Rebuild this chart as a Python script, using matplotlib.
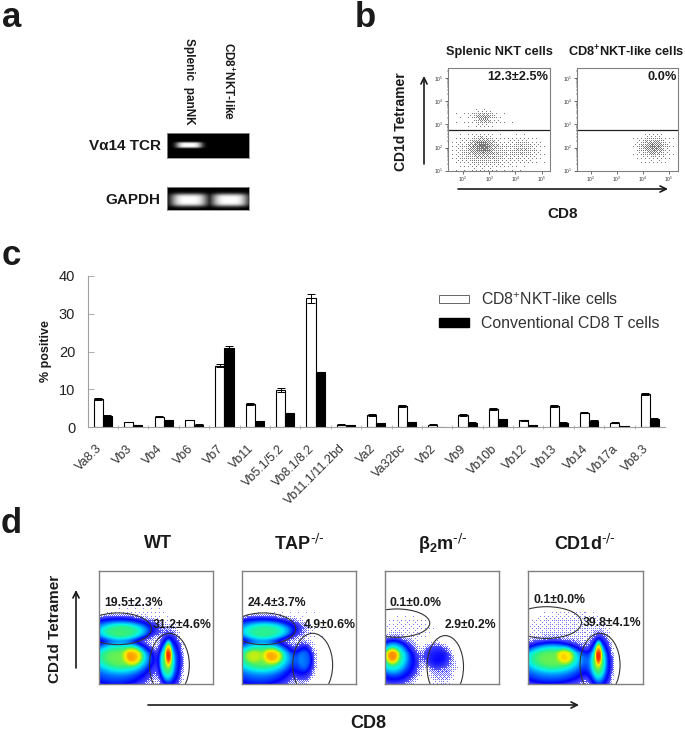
import matplotlib
matplotlib.use('Agg')
import matplotlib.pyplot as plt
from matplotlib.colors import LinearSegmentedColormap
from matplotlib.patches import Ellipse, Patch
import numpy as np

plt.rcParams['font.family'] = ['Liberation Sans', 'DejaVu Sans']
plt.rcParams['mathtext.default'] = 'regular'

W, H = 685, 732

# panel c
categories = ['Va8.3', 'Vb3', 'Vb4', 'Vb6', 'Vb7', 'Vb11', 'Vb5.1/5.2', 'Vb8.1/8.2', 'Vb11.1/11.2bd', 'Va2',
              'Va32bc', 'Vb2', 'Vb9', 'Vb10b', 'Vb12', 'Vb13', 'Vb14', 'Vb17a', 'Vb8.3']
nkt_like = [7.4, 1.4, 2.8, 1.9, 16.3, 6.1, 9.8, 34.0, 0.7, 3.3, 5.7, 0.7, 3.2, 4.8, 1.8, 5.7, 3.9, 1.2, 8.8]
nkt_like_err = [0.2, 0.1, 0.1, 0.1, 0.5, 0.3, 0.5, 1.2, 0.1, 0.2, 0.3, 0.05, 0.2, 0.2, 0.2, 0.3, 0.1, 0.1, 0.3]
conventional = [3.1, 0.5, 1.8, 0.7, 21.0, 1.6, 3.7, 14.5, 0.5, 1.1, 1.4, 0.1, 1.2, 2.1, 0.5, 1.2, 1.7, 0.3, 2.3]
conventional_err = [0.1, 0.05, 0.1, 0.05, 0.4, 0.1, 0.1, 0.2, 0.05, 0.1, 0.1, 0.02, 0.1, 0.1, 0.05, 0.1, 0.1, 0.05, 0.1]

# panel b, cell clouds: log10 x, log10 y, sd x, sd y, height
splenic_cloud = [(2.78, 2.1, 0.28, 0.22, 0.65), (2.6, 1.85, 0.6, 0.42, 0.3), (4.3, 2.0, 0.38, 0.3, 0.28),
                 (3.5, 1.6, 0.85, 0.35, 0.12), (2.8, 3.3, 0.25, 0.15, 0.5), (2.7, 3.2, 0.75, 0.25, 0.07)]
nkt_like_cloud = [(4.4, 2.05, 0.28, 0.22, 0.5), (4.4, 1.95, 0.45, 0.38, 0.22)]

# panel d, same idea in axes fractions: u, v, half width, half height, height
wt_blobs = [(0.17, 0.49, 0.27, 0.085, 0.2), (0.2, 0.47, 0.17, 0.06, 0.24),
            (0.15, 0.18, 0.27, 0.18, 0.2), (0.2, 0.24, 0.2, 0.11, 0.3), (0.3, 0.25, 0.07, 0.07, 0.28),
            (0.62, 0.2, 0.085, 0.2, 0.18), (0.6, 0.2, 0.05, 0.13, 0.3), (0.61, 0.27, 0.025, 0.09, 0.4),
            (0.35, 0.55, 0.3, 0.18, 0.006)]
tap_blobs = [(0.17, 0.49, 0.27, 0.085, 0.2), (0.2, 0.47, 0.17, 0.06, 0.22),
             (0.15, 0.18, 0.27, 0.18, 0.2), (0.18, 0.24, 0.2, 0.11, 0.3), (0.27, 0.25, 0.07, 0.06, 0.26),
             (0.1, 0.25, 0.06, 0.05, 0.1), (0.54, 0.2, 0.08, 0.14, 0.1), (0.55, 0.22, 0.05, 0.09, 0.08),
             (0.5, 0.5, 0.3, 0.25, 0.004)]
b2m_blobs = [(0.08, 0.2, 0.17, 0.16, 0.18), (0.07, 0.24, 0.1, 0.11, 0.25), (0.065, 0.25, 0.05, 0.06, 0.35),
             (0.45, 0.25, 0.1, 0.09, 0.08), (0.5, 0.15, 0.1, 0.12, 0.03), (0.18, 0.5, 0.22, 0.1, 0.008)]
cd1d_blobs = [(0.2, 0.18, 0.3, 0.16, 0.22), (0.22, 0.23, 0.2, 0.1, 0.28), (0.33, 0.25, 0.06, 0.06, 0.22),
              (0.62, 0.18, 0.085, 0.2, 0.18), (0.61, 0.2, 0.05, 0.13, 0.28), (0.61, 0.27, 0.025, 0.09, 0.4),
              (0.35, 0.5, 0.32, 0.13, 0.012)]
d_titles = ['WT', 'TAP$^{\\text{-/-}}$', 'β$_{2}$m$^{\\text{-/-}}$', 'CD1d$^{\\text{-/-}}$']
d_upper_pct = ['19.5±2.3%', '24.4±3.7%', '0.1±0.0%', '0.1±0.0%']
d_lower_pct = ['31.2±4.6%', '4.9±0.6%', '2.9±0.2%', '39.8±4.1%']

flow_cmap = LinearSegmentedColormap.from_list('flow', ['#8080ff', '#0000ff', '#0090ff', '#00f0f0', '#30f080', '#a0f020',
                                                       '#ffee00', '#ff9000', '#ff2000', '#c80000'])


def ax_px(x0, y0, x1, y1):
    # axes from picture pixels, y counted from the top
    return fig.add_axes([x0 / W, 1 - y1 / H, (x1 - x0) / W, (y1 - y0) / H])


def blob_sum(xx, yy, blobs, p=1.0):
    d = np.zeros_like(xx)
    for cx, cy, sx, sy, amp in blobs:
        r2 = ((xx - cx) / sx) ** 2 + ((yy - cy) / sy) ** 2
        d = d + amp * np.exp(-0.5 * r2 ** p)
    return d


def dither(shape):
    # ordered dither texture, gives the speckled look without random numbers
    m = np.array([[0, 2], [3, 1]])
    while m.shape[0] < 8:
        m = np.block([[4 * m, 4 * m + 2], [4 * m + 3, 4 * m + 1]])
    m = (m + 0.5) / m.size
    return np.tile(m, (shape[0] // 8 + 1, shape[1] // 8 + 1))[:shape[0], :shape[1]]


def label(x, y, s, **kw):
    kw.setdefault('ha', 'center')
    kw.setdefault('va', 'center')
    kw.setdefault('fontweight', 'bold')
    kw.setdefault('color', '#1a1a1a')
    over.text(x, y, s, **kw)


def arrow(x0, y0, x1, y1):
    over.annotate('', xy=(x1, y1), xytext=(x0, y0),
                  arrowprops=dict(arrowstyle='->', color='#1a1a1a', lw=1.2, shrinkA=0, shrinkB=0, mutation_scale=11))


def gel(box, bands):
    ax = ax_px(*box)
    xs = np.linspace(box[0], box[2], 120)
    ys = np.linspace(box[1], box[3], 50)
    xx, yy = np.meshgrid(xs, ys)
    d = np.zeros_like(xx)
    for cx, cy, sx, sy in bands:
        d = np.maximum(d, np.exp(-((np.abs(xx - cx) / sx) ** 4 + (np.abs(yy - cy) / sy) ** 4)))
    ax.imshow(d, cmap='gray', vmin=0, vmax=1, aspect='auto', extent=(box[0], box[2], box[3], box[1]))
    ax.set_xticks([])
    ax.set_yticks([])
    for s in ax.spines.values():
        s.set_color('#909090')
        s.set_linewidth(0.6)


def dot_plot(box, cloud, xlim):
    ax = ax_px(*box)
    xe = np.linspace(xlim[0], xlim[1], int(box[2] - box[0]) + 1)
    ye = np.linspace(1.0, 5.43, int(box[3] - box[1]) + 1)
    xx, yy = np.meshgrid((xe[:-1] + xe[1:]) / 2, (ye[:-1] + ye[1:]) / 2)
    d = blob_sum(xx, yy, cloud)
    dots = np.ma.masked_where(d < dither(d.shape) + 0.01, d * 0 + 0.6)
    ax.pcolormesh(10 ** xe, 10 ** ye, dots, cmap='Greys', vmin=0, vmax=1, rasterized=True)
    ax.set_xscale('log')
    ax.set_yscale('log')
    ax.set_xlim(10 ** xlim[0], 10 ** xlim[1])
    ax.set_ylim(10 ** 1.0, 10 ** 5.43)
    ax.axhline(10 ** 2.76, color='#222222', lw=0.9)
    ax.set_xticks([1e2, 1e3, 1e4, 1e5])
    ax.set_yticks([1e1, 1e2, 1e3, 1e4, 1e5])
    ax.tick_params(which='major', labelsize=3.5, length=2, width=0.5, pad=1, colors='#333333')
    ax.tick_params(which='minor', length=1, width=0.3, labelbottom=False, labelleft=False)
    for s in ax.spines.values():
        s.set_color('#808080')
        s.set_linewidth(0.8)
    return ax


def density_plot(box, blobs, upper, lower):
    ax = ax_px(*box)
    e = np.linspace(0, 1, 115)
    xx, yy = np.meshgrid((e[:-1] + e[1:]) / 2, (e[:-1] + e[1:]) / 2)
    d = blob_sum(xx, yy, blobs, p=2.0)
    d = np.ma.masked_where(d < 0.003 + 0.05 * dither(d.shape), d)
    ax.pcolormesh(e, e, d, cmap=flow_cmap, vmin=0, vmax=1, rasterized=True)
    for cx, cy, w, h, ang in (upper, lower):
        ax.add_patch(Ellipse((cx, cy), w, h, angle=ang, fill=False, ec='#333333', lw=0.8))
    ax.set_xlim(0, 1)
    ax.set_ylim(0, 1)
    ax.set_xticks([])
    ax.set_yticks([])
    for s in ax.spines.values():
        s.set_color('#808080')
        s.set_linewidth(1.0)
    return ax


fig = plt.figure(figsize=(W / 100, H / 100), dpi=100)
over = fig.add_axes([0, 0, 1, 1], zorder=10)
over.set_xlim(0, W)
over.set_ylim(H, 0)
over.axis('off')

# panel letters
for x, y, s in [(2, 27, 'a'), (355, 27, 'b'), (2, 265, 'c'), (1, 533, 'd')]:
    label(x, y, s, ha='left', va='baseline', fontsize=25)

# a
gel((167, 133, 249, 158), [(189, 145, 13, 3.0)])
gel((167, 187, 249, 210), [(189, 200, 18, 6.5), (230, 200, 18, 6.5)])
label(161, 146, 'Vα14 TCR', ha='right', fontsize=11)
label(160, 200, 'GAPDH', ha='right', fontsize=11)
label(189, 38, 'Splenic  panNK', rotation=-90, va='top', fontsize=8.5)
label(228, 42, 'CD8$^{+}$NKT-like', rotation=-90, va='top', fontsize=8.5)

# b
dot_plot((447.7, 68.3, 550.3, 170.7), splenic_cloud, (1.43, 5.32))
dot_plot((576.7, 68.3, 678, 170.7), nkt_like_cloud, (1.47, 5.34))
label(499, 52, 'Splenic NKT cells', fontsize=9.2)
label(626, 52, 'CD8$^{+}$NKT-like cells', fontsize=9.2)
label(548, 77, '12.3±2.5%', ha='right', fontsize=9.2)
label(677, 77, '0.0%', ha='right', fontsize=9.2)
label(401, 122, 'CD1d Tetramer', rotation=90, fontsize=10)
label(563, 214, 'CD8', fontsize=11)
arrow(424, 164, 424, 76)
arrow(458, 189, 668, 189)

# c
ax = ax_px(87.7, 275.7, 665, 427.3)
x = np.arange(len(categories))
bw = 0.3
err_style = dict(ecolor='black', elinewidth=0.7, capsize=2.8, capthick=0.7)
ax.bar(x - bw / 2, nkt_like, bw, color='white', edgecolor='black', linewidth=0.8,
       yerr=nkt_like_err, error_kw=err_style)
ax.bar(x + bw / 2, conventional, bw, color='black', edgecolor='black', linewidth=0.8,
       yerr=conventional_err, error_kw=err_style)
ax.set_xlim(-0.5, len(categories) - 0.5)
ax.set_ylim(0, 40)
ax.set_yticks([0, 10, 20, 30, 40])
# labels sit a bit left of their bars, major ticks are hidden
ax.set_xticks(x - 0.23)
ax.set_xticklabels(categories, rotation=45, ha='right', va='top', rotation_mode='anchor', fontsize=9, color='#333333')
ax.set_xticks(x[:-1] + 0.5, minor=True)
ax.tick_params(axis='x', which='major', length=0, pad=11)
ax.tick_params(axis='x', which='minor', length=3, width=0.6, color='#b0b0b0', direction='inout')
ax.tick_params(axis='y', labelsize=10.5, length=4, width=0.6, color='#a0a0a0', pad=9, labelcolor='#222222', direction='in')
ax.spines['top'].set_visible(False)
ax.spines['right'].set_visible(False)
ax.spines['left'].set_color('#a0a0a0')
ax.spines['bottom'].set_color('#a0a0a0')
label(46, 351, '% positive', rotation=90, fontsize=9)
handles = [Patch(facecolor='white', edgecolor='#666666', linewidth=0.7), Patch(facecolor='black', edgecolor='black')]
fig.legend(handles, ['CD8$^{+}$NKT-like cells', 'Conventional CD8 T cells'], loc='upper left',
           bbox_to_anchor=(439 / W, 1 - 291 / H), frameon=False, fontsize=11.4, handlelength=1.9, handleheight=0.45,
           handletextpad=0.75, labelspacing=0.55, borderpad=0, borderaxespad=0, labelcolor='#333333')

# d
d_boxes = [(98.7, 571, 212.7, 684.3), (242, 571, 356, 684.3), (385.3, 571, 499.3, 684.3), (528.3, 571, 642.7, 684.3)]
d_blobs = [wt_blobs, tap_blobs, b2m_blobs, cd1d_blobs]
d_upper = [(0.17, 0.49, 0.585, 0.28, 0), (0.187, 0.49, 0.57, 0.28, 0), (0.10, 0.54, 0.58, 0.25, 0), (0.16, 0.545, 0.61, 0.28, 0)]
d_lower = [(0.62, 0.17, 0.35, 0.56, 0), (0.62, 0.17, 0.35, 0.56, 0), (0.526, 0.155, 0.32, 0.55, 0), (0.627, 0.17, 0.35, 0.56, 0)]
upper_xy = [(104, 602.5), (247.5, 602.5), (389.5, 602.5), (533.5, 600)]
lower_xy = [(211.5, 625), (355.5, 625), (496, 625), (641, 622.5)]
title_x = [158.5, 299, 443, 585]
for i in range(4):
    density_plot(d_boxes[i], d_blobs[i], d_upper[i], d_lower[i])
    label(title_x[i], 544, d_titles[i], fontsize=13)
    label(upper_xy[i][0], upper_xy[i][1], d_upper_pct[i], ha='left', fontsize=8.8)
    label(lower_xy[i][0], lower_xy[i][1], d_lower_pct[i], ha='right', fontsize=8.8)
label(55, 629, 'CD1d Tetramer', rotation=90, fontsize=11)
label(368, 724, 'CD8', fontsize=13)
arrow(76, 668, 76, 590)
arrow(148, 705, 579, 705)

fig.savefig('out.png', dpi=100)
